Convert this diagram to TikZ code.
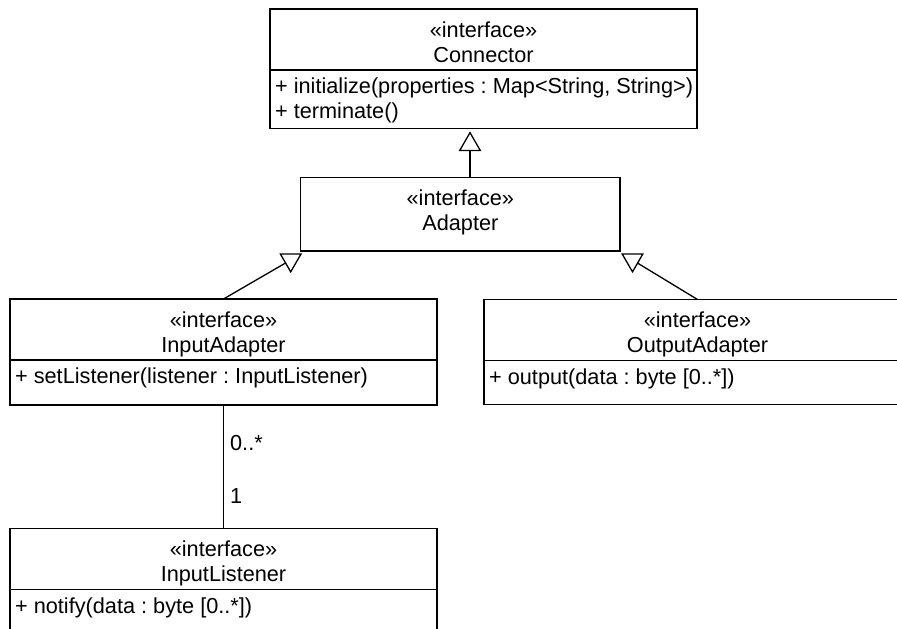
\documentclass[tikz,border=0pt]{standalone}
\usepackage{fontspec}
\setmainfont{Liberation Sans}
\usetikzlibrary{shapes.geometric}
\frenchspacing
\begin{document}
\begin{tikzpicture}[x=1pt,y=-1pt,
  line width=1.3pt,
  font=\fontsize{21.7}{24.6}\selectfont,
  classbox/.style={draw, rectangle, fill=white, inner sep=0pt, outer sep=0pt, anchor=north west},
  caption/.style={inner sep=0pt, anchor=base},
  operation/.style={inner sep=0pt, anchor=base west},
  multiplicity/.style={inner sep=0pt, anchor=base west},
  gentip/.style={draw, fill=white, regular polygon, regular polygon sides=3,
    minimum size=23.7pt, inner sep=0pt, outer sep=0pt}
]
\clip (0,0) rectangle (897,629);
\fill[white] (0,0) rectangle (897,629);

% Connector
\node[classbox, minimum width=427pt, minimum height=119.5pt] (conn) at (270,9) {};
\draw ([yshift=-61pt]conn.north west) -- ([yshift=-61pt]conn.north east);
\node[caption] (conn-st) at ([yshift=-28.4pt]conn.north) {«interface»};
\node[caption] (conn-name) at ([yshift=-53pt]conn.north) {Connector};
\node[operation] (conn-op1) at ([xshift=4.5pt,yshift=-84.5pt]conn.north west) {+ initialize(properties : Map<String, String>)};
\node[operation] (conn-op2) at ([xshift=4.5pt,yshift=-109.1pt]conn.north west) {+ terminate()};

% Adapter
\node[classbox, minimum width=319.3pt, minimum height=73.7pt] (adapter) at (300.7,177.3) {};
\node[caption] (adapter-st) at ([yshift=-28.4pt]adapter.north) {«interface»};
\node[caption] (adapter-name) at ([yshift=-53pt]adapter.north) {Adapter};

% InputAdapter
\node[classbox, minimum width=427pt, minimum height=106pt] (inadapter) at (10,299) {};
\draw ([yshift=-61pt]inadapter.north west) -- ([yshift=-61pt]inadapter.north east);
\node[caption] (inadapter-st) at ([yshift=-28.4pt]inadapter.north) {«interface»};
\node[caption] (inadapter-name) at ([yshift=-53pt]inadapter.north) {InputAdapter};
\node[operation] (inadapter-op1) at ([xshift=4.5pt,yshift=-84.5pt]inadapter.north west) {+ setListener(listener : InputListener)};

% OutputAdapter
\node[classbox, minimum width=427pt, minimum height=105pt] (outadapter) at (484,299.5) {};
\draw ([yshift=-61pt]outadapter.north west) -- ([yshift=-61pt]outadapter.north east);
\node[caption] (outadapter-st) at ([yshift=-28.4pt]outadapter.north) {«interface»};
\node[caption] (outadapter-name) at ([yshift=-53pt]outadapter.north) {OutputAdapter};
\node[operation] (outadapter-op1) at ([xshift=4.5pt,yshift=-84.5pt]outadapter.north west) {+ output(data : byte [0..*])};

% InputListener
\node[classbox, minimum width=427pt, minimum height=106pt] (inlistener) at (10,528.5) {};
\draw ([yshift=-61pt]inlistener.north west) -- ([yshift=-61pt]inlistener.north east);
\node[caption] (inlistener-st) at ([yshift=-28.4pt]inlistener.north) {«interface»};
\node[caption] (inlistener-name) at ([yshift=-53pt]inlistener.north) {InputListener};
\node[operation] (inlistener-op1) at ([xshift=4.5pt,yshift=-84.5pt]inlistener.north west) {+ notify(data : byte [0..*])};

% generalization heads
\node[gentip] (gen-conn) at (470,144.5) {};
\node[gentip, shape border rotate=180] (gen-in) at ([xshift=-10pt,yshift=-9pt]adapter.south west) {};
\node[gentip, shape border rotate=180] (gen-out) at ([xshift=12.5pt,yshift=-9pt]adapter.south east) {};

% generalization lines
\draw (adapter.north -| gen-conn) -- (gen-conn);
\draw (inadapter.north) -- (gen-in);
\draw (outadapter.north) -- (gen-out);

% association InputAdapter -- InputListener
\draw (inadapter) -- (inlistener);
\node[multiplicity] (mult-many) at (229.5,450) {0..*};
\node[multiplicity] (mult-one) at (229.5,503.3) {1};
\end{tikzpicture}
\end{document}
